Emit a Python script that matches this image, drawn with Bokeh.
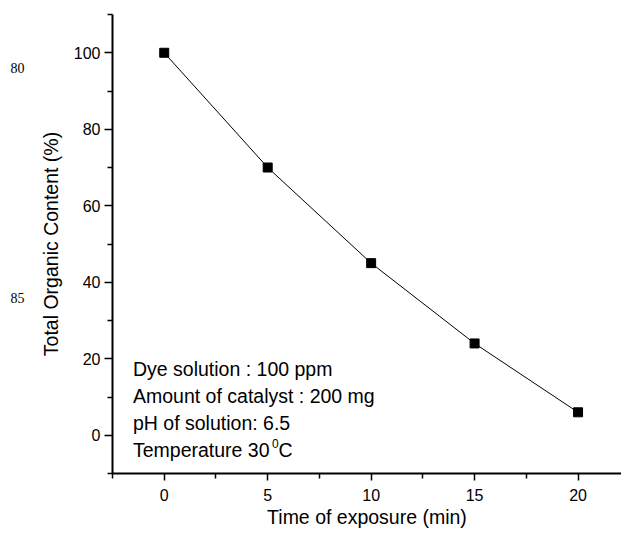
from bokeh.plotting import figure
from bokeh.models import Range1d, FixedTicker, Label, LinearAxis
from bokeh.embed import file_html
from bokeh.resources import INLINE

# ---- data ----
time_min = [0, 5, 10, 15, 20]
toc_pct = [100, 70, 45, 24, 6]
x_major = [0, 5, 10, 15, 20]
x_minor = [-2.5, 2.5, 7.5, 12.5, 17.5, 22.5]
y_major = [0, 20, 40, 60, 80, 100]
y_minor = [-10, 10, 30, 50, 70, 90, 110]
notes = ["Dye solution : 100 ppm", "Amount of catalyst : 200 mg",
         "pH of solution: 6.5", "Temperature 30"]
margin_nums = ["80", "85"]
margin_at = [96, 36]

FONT = "Liberation Sans"

p = figure(width=621, height=530, output_backend="svg", toolbar_location=None,
           x_range=Range1d(-2.5, 22.1), y_range=Range1d(-10, 110),
           min_border_left=112, min_border_right=0, min_border_top=14,
           min_border_bottom=57)
p.outline_line_color = None
p.grid.visible = False
p.background_fill_color = "white"
p.border_fill_color = "white"

for ax, maj, mnr in ((p.xaxis, x_major, x_minor), (p.yaxis, y_major, y_minor)):
    ax.ticker = FixedTicker(ticks=maj, minor_ticks=mnr)
    ax.axis_line_width = 2
    ax.axis_line_color = "black"
    ax.major_tick_line_width = 1.5
    ax.minor_tick_line_width = 1.5
    ax.major_tick_line_color = "black"
    ax.minor_tick_line_color = "black"
    ax.major_tick_in = 0
    ax.minor_tick_in = 0
    ax.minor_tick_out = 5
    ax.major_label_text_font = FONT
    ax.major_label_text_font_size = "16px"
    ax.major_label_text_color = "black"
    ax.axis_label_text_font = FONT
    ax.axis_label_text_font_size = "19.5px"
    ax.axis_label_text_font_style = "normal"
    ax.axis_label_text_color = "black"

p.xaxis.major_tick_out = 7
p.yaxis.major_tick_out = 8
p.xaxis.major_label_standoff = 8
p.yaxis.major_label_standoff = 4
p.xaxis.axis_label = "Time of exposure (min)"
p.yaxis.axis_label = "Total Organic Content (%)"
p.xaxis.axis_label_standoff = 2
p.yaxis.axis_label_standoff = 9

# stray page line numbers in the left margin (an unlined extra axis)
side = LinearAxis(ticker=FixedTicker(ticks=margin_at, minor_ticks=[]),
                  major_label_overrides={k: v for k, v in zip(margin_at, margin_nums)},
                  axis_line_color=None, major_tick_line_color=None,
                  minor_tick_line_color=None, major_tick_out=0, major_tick_in=0,
                  major_label_standoff=12,
                  major_label_text_font="Liberation Serif",
                  major_label_text_font_size="14px",
                  major_label_text_color="#000000")
p.add_layout(side, "left")

p.line(time_min, toc_pct, line_color="black", line_width=1)
p.scatter(time_min, toc_pct, marker="square", size=9, color="black")

# annotation block
for txt, yy in zip(notes, [17.4, 10.3, 3.2, -3.9]):
    p.add_layout(Label(x=-1.51, y=yy, text=txt, text_font=FONT,
                       text_font_size="19.5px", text_color="black",
                       text_baseline="alphabetic"))
p.add_layout(Label(x=-1.51, y=-3.9, text="0", x_offset=139, y_offset=7,
                   text_font=FONT, text_font_size="12px", text_color="black",
                   text_baseline="alphabetic"))
p.add_layout(Label(x=-1.51, y=-3.9, text="C", x_offset=145.5,
                   text_font=FONT, text_font_size="19.5px", text_color="black",
                   text_baseline="alphabetic"))

open("out.html", "w").write(file_html(p, INLINE))
